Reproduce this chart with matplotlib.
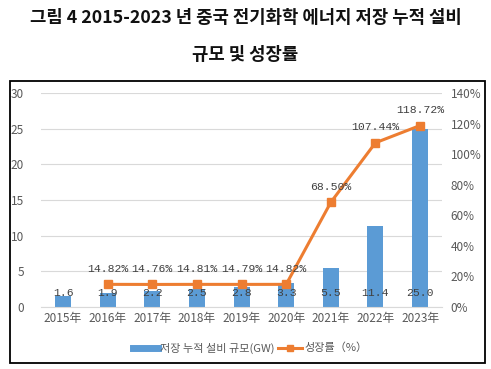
import matplotlib
matplotlib.use("Agg")
import matplotlib.pyplot as plt
from matplotlib.patches import Rectangle
from matplotlib.lines import Line2D

plt.rcParams['font.family'] = ['Noto Sans CJK KR', 'Noto Sans CJK SC', 'DejaVu Sans']

years = ["2015年", "2016年", "2017年", "2018年", "2019年", "2020年", "2021年", "2022年", "2023年"]
capacity = [1.6, 1.9, 2.2, 2.5, 2.8, 3.3, 5.5, 11.4, 25.0]
growth_years = ["2016年", "2017年", "2018年", "2019年", "2020年", "2021年", "2022年", "2023年"]
growth = [14.82, 14.76, 14.81, 14.79, 14.82, 68.50, 107.44, 118.72]
title_lines = ["그림 4 2015-2023 년 중국 전기화학 에너지 저장 누적 설비", "규모 및 성장률"]
bar_label = "저장 누적 설비 규모(GW)"
line_label = "성장률（%）"

BLUE = "#5B9BD5"
ORANGE = "#ED7D31"
TXT = "#595959"

fig = plt.figure(figsize=(4.91, 3.69), dpi=100)
fig.patch.set_facecolor("white")

# titles
fig.text(0.5, 0.952, title_lines[0], ha="center", va="center", fontsize=12.8,
         fontweight="bold", color="#111111")
fig.text(0.5, 0.851, title_lines[1], ha="center", va="center", fontsize=12.8,
         fontweight="bold", color="#111111")

# chart border
fig.patches.append(Rectangle((0.020, 0.016), 0.968, 0.764, transform=fig.transFigure,
                             fill=False, edgecolor="black", linewidth=1.3))

ax = fig.add_axes([0.083, 0.168, 0.818, 0.580])
x = list(range(len(years)))
ax.bar(x, capacity, width=0.36, color=BLUE, zorder=2)
ax.set_ylim(0, 30)
ax.set_yticks(range(0, 31, 5))
ax.set_xlim(-0.5, len(years) - 0.5)
ax.set_xticks(x)
ax.set_xticklabels(years, fontsize=8.5, color=TXT)
ax.grid(axis="y", color="#D9D9D9", linewidth=0.8, zorder=0)
ax.set_axisbelow(True)
for s in ["top", "right", "left"]:
    ax.spines[s].set_visible(False)
ax.spines["bottom"].set_color("#D9D9D9")
ax.tick_params(axis="both", length=0, colors=TXT, labelsize=8.5)
ax.tick_params(axis="y", pad=12)
for xi, v in zip(x, capacity):
    ax.text(xi, 2.0, f"{v:.1f}", ha="center", va="center", fontsize=8.2,
            color="#404040", family="Liberation Mono", zorder=4)

ax2 = ax.twinx()
gx = [years.index(g) for g in growth_years]
ax2.plot(gx, growth, color=ORANGE, linewidth=2.2, marker="s", markersize=6, zorder=3)
ax2.set_ylim(0, 140)
ax2.set_yticks(range(0, 141, 20))
ax2.set_yticklabels([f"{t}%" for t in range(0, 141, 20)])
for s in ["top", "right", "left", "bottom"]:
    ax2.spines[s].set_visible(False)
ax2.tick_params(axis="y", length=0, colors=TXT, labelsize=8.5, pad=6)
for xi, v in zip(gx, growth):
    ax2.text(xi, v + 7.0, f"{v:.2f}%", ha="center", va="bottom", fontsize=8.2,
             color="#404040", family="Liberation Mono")

handles = [Line2D([0], [0], color=BLUE, linewidth=5),
           Line2D([0], [0], color=ORANGE, linewidth=2.2, marker="s", markersize=5)]
fig.legend(handles, [bar_label, line_label], loc="center", bbox_to_anchor=(0.51, 0.057),
           ncol=2, frameon=False, fontsize=8, labelcolor=TXT, handlelength=2.2,
           handletextpad=0.2, columnspacing=0.3)

fig.savefig("out.png", dpi=100, facecolor="white")
